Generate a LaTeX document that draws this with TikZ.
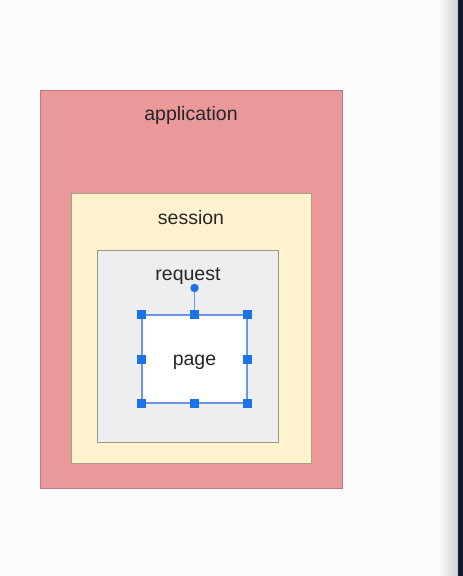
\documentclass[tikz,border=0pt]{standalone}
\usepackage{fontspec}
\setmainfont{Liberation Sans}
\usetikzlibrary{calc}

\definecolor{appfill}{HTML}{EA9899}
\definecolor{appline}{HTML}{C07A80}
\definecolor{sessfill}{HTML}{FFF2CE}
\definecolor{sessline}{HTML}{A8A190}
\definecolor{reqfill}{HTML}{EEEEF0}
\definecolor{reqline}{HTML}{9C968E}
\definecolor{selblue}{HTML}{1A73E8}
\definecolor{pgline}{HTML}{6A98DE}
\definecolor{edgebar}{HTML}{0D1A30}

\tikzset{
  scopebox/.style={draw, line width=1pt, inner sep=0pt},
  label text/.style={font=\fontsize{19.5}{22}\selectfont, text=black!85},
  handle/.style={fill=selblue, draw=none, minimum size=9pt, inner sep=0pt},
}

\begin{document}
\begin{tikzpicture}[x=1pt, y=-1pt]
    \useasboundingbox (0, 0) rectangle (463, 576);
    \fill[white!99!black] (0, 0) rectangle (463, 576);
    % window edge
    \shade[left color=white!99!black, right color=black!18] (438, 0) rectangle (458, 576);
    \fill[edgebar] (458, 0) rectangle (463, 576);

    % nested scopes
    \node[scopebox, fill=appfill, draw=appline, minimum width=302pt, minimum height=398pt] (app) at (191, 289) {};
    \node[scopebox, fill=sessfill, draw=sessline, minimum width=240pt, minimum height=270pt] (sess) at (191, 328) {};
    \node[scopebox, fill=reqfill, draw=reqline, minimum width=181pt, minimum height=192pt] (req) at (187.5, 346) {};
    \node[scopebox, fill=white, draw=pgline, line width=1.8pt, minimum width=105pt, minimum height=88pt] (pg) at (194.5, 359) {};

    \node[label text] (applbl) at (191, 115) {application};
    \node[label text] (sesslbl) at (191, 218) {session};
    \node[label text] (reqlbl) at (188, 276) {request};
    \node[label text] (pglbl) at (194.5, 362) {page};

    % selection handles
    \node[circle, fill=selblue, minimum size=8.5pt, inner sep=0pt] (rot) at (194.5, 288) {};
    \draw[pgline, line width=1.2pt] (rot) -- (pg.north);
    \foreach \a in {north west, north, north east, east, south east, south, south west, west}
        \node[handle] at (pg.\a) {};
\end{tikzpicture}
\end{document}
